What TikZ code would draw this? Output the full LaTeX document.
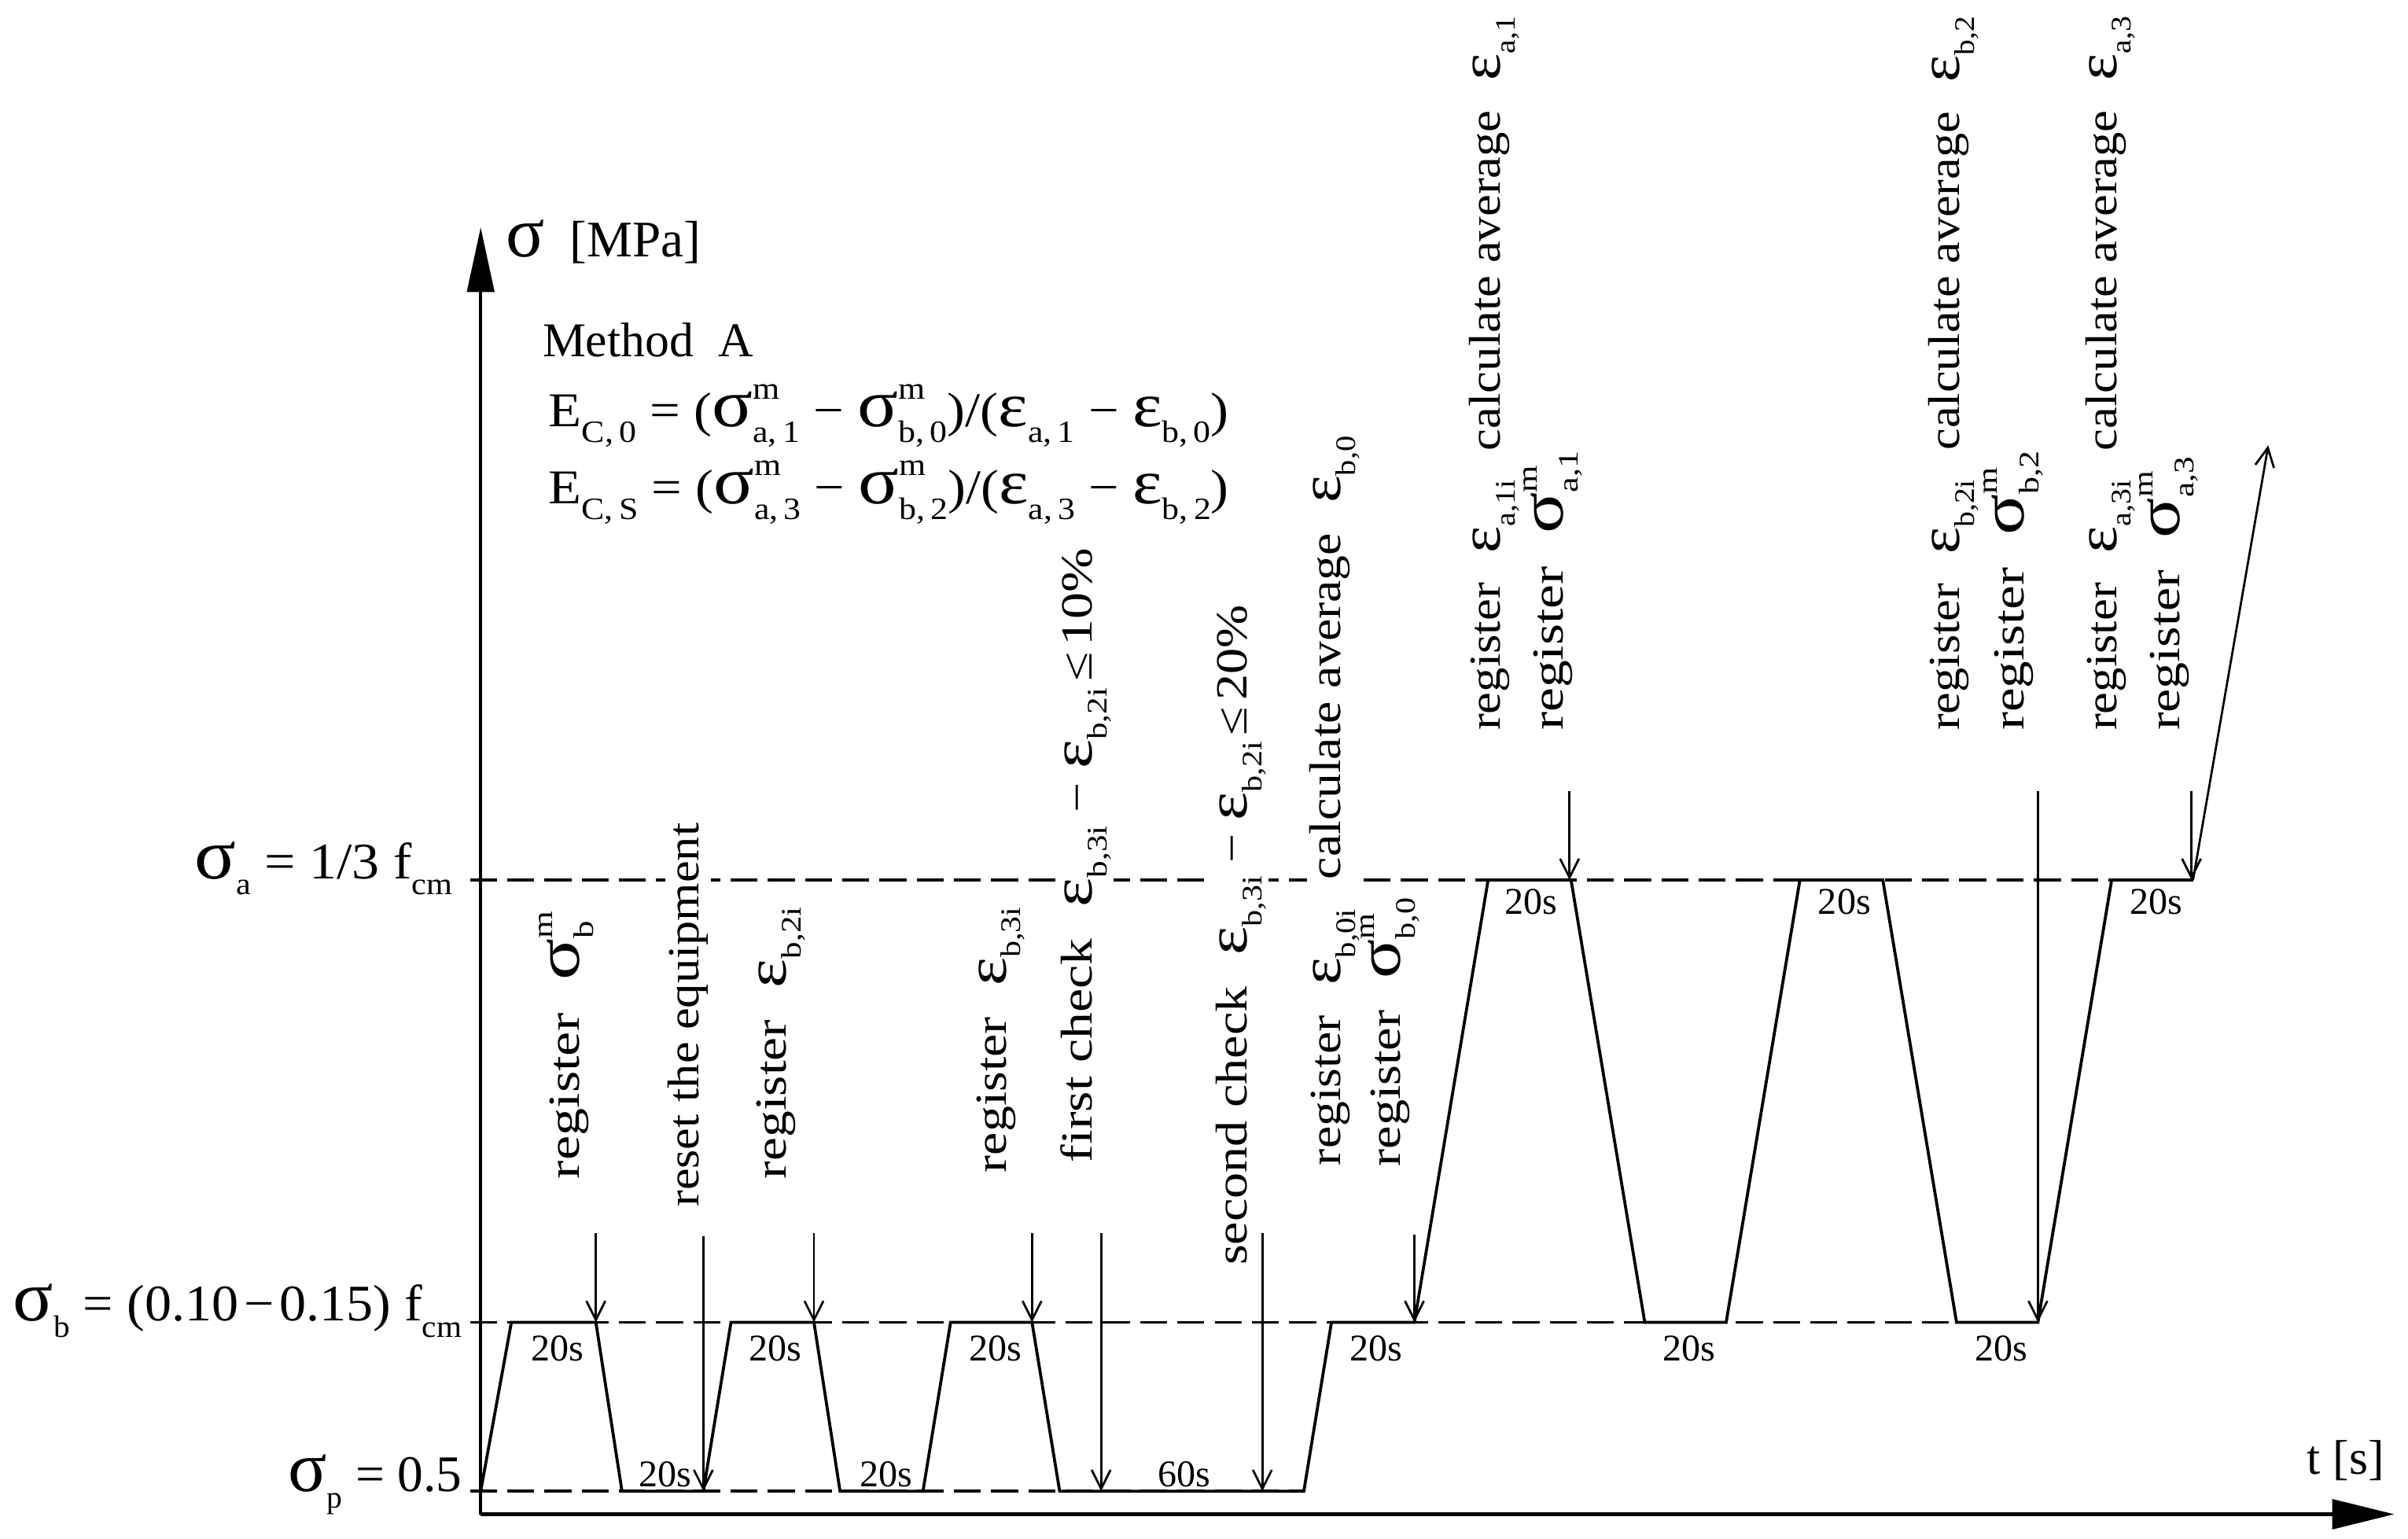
\documentclass[tikz,border=0pt]{standalone}
\usepackage{fontspec}
\setmainfont{Liberation Serif}
\usepackage{graphicx}
\usetikzlibrary{arrows.meta}
\newcommand{\gsig}{\scalebox{1.4}{σ}}
\newcommand{\geps}{\scalebox{1.3}{ε}}
\newcommand{\subsz}{\fontsize{11.5}{13}\selectfont}
\newcommand{\sbx}[1]{\raisebox{-0.32em}{\subsz #1}}
\newcommand{\ssb}[2]{\makebox[0pt][l]{\raisebox{0.58em}{\subsz #1}}\raisebox{-0.32em}{\subsz #2}}
% smaller sub/sup for the rotated labels
\newcommand{\vsubsz}{\fontsize{10.5}{12}\selectfont}
\newcommand{\vsubx}[1]{\raisebox{-0.33em}{\vsubsz #1}}
\newcommand{\vsupsub}[2]{\makebox[0pt][l]{\raisebox{0.6em}{\vsubsz #1}}\raisebox{-0.33em}{\vsubsz #2}}
\newcommand{\gap}{\hspace{0.6em}}
\newcommand{\mn}{\hspace{0.25em}−\hspace{0.25em}}
\newcommand{\leqsp}{\hspace{0.12em}≤\hspace{0.12em}}
\newcommand{\fitw}[2]{\resizebox{#1}{\height}{#2}}
\tikzset{
  loadline/.style={line width=1.1pt, line join=miter},
  axisline/.style={line width=1.2pt},
  levelline/.style={line width=1.1pt, dash pattern=on 10pt off 3.8pt},
  regarrow/.style={line width=0.8pt, -{Straight Barb[length=7pt,width=7pt]}},
  vlab/.style={rotate=90, anchor=base west, inner sep=0pt, font=\fontsize{16.5}{19}\selectfont},
  vlabw/.style={vlab, fill=white, inner sep=1pt},
  hlab/.style={anchor=base west, inner sep=0pt, font=\fontsize{18}{21}\selectfont},
  elab/.style={anchor=base west, inner sep=0pt, font=\fontsize{18}{21}\selectfont},
  llab/.style={anchor=base east, inner sep=0pt, font=\fontsize{19}{22}\selectfont},
  tlab/.style={inner sep=0pt, font=\fontsize{14}{16}\selectfont}
}
\begin{document}
\begin{tikzpicture}[x=0.02cm, y=-0.02cm]
\useasboundingbox (0,0) rectangle (1568,1002);
% level lines
\coordinate (aL) at (306,573); \coordinate (aR) at (1428,573);
\coordinate (bL) at (306,861); \coordinate (bR) at (1327,861);
\coordinate (pL) at (306,971); \coordinate (pR) at (849,971);
\draw[levelline] (aL) -- (aR);
\draw[levelline] (bL) -- (bR);
\draw[levelline] (pL) -- (pR);
% axes
\coordinate (O) at (313,986);
\coordinate (Ytip) at (313,148);
\coordinate (Xtip) at (1559,986);
\draw[axisline, -{Triangle[length=24pt,width=10pt]}] (O) -- (Ytip);
\draw[axisline, -{Triangle[length=23pt,width=11pt]}] (O) -- (Xtip);
% axis labels
\node[hlab, font=\fontsize{19}{21}\selectfont] (ylab) at (329,167) {\gsig\ \ [MPa]};
\node[hlab] (xlab) at (1502,960) {t [s]};
\node[llab] (sa) at (295,572) {\fitw{3.36cm}{\gsig\sbx{a} = 1/3 f\sbx{cm}}};
\node[llab] (sb) at (301,860) {\fitw{5.84cm}{\gsig\sbx{b} = (0.10\hspace{0.1em}−\hspace{0.1em}0.15) f\sbx{cm}}};
\node[llab] (sp) at (301,971) {\fitw{2.26cm}{\gsig\sbx{p} = 0.5}};
% method
\node[hlab] (meth) at (353,232) {Method\ \ A};
\node[elab] (eq1) at (357,278) {\fitw{8.86cm}{E\sbx{C,\,0}\ =\ (\gsig\ssb{m}{a,\,1}\mn\gsig\ssb{m}{b,\,0})/(\geps\sbx{a,\,1}\mn\geps\sbx{b,\,0})}};
\node[elab] (eq2) at (357,328) {\fitw{8.86cm}{E\sbx{C,\,S}\ =\ (\gsig\ssb{m}{a,\,3}\mn\gsig\ssb{m}{b,\,2})/(\geps\sbx{a,\,3}\mn\geps\sbx{b,\,2})}};
% vertical labels
\node[vlab] (L1) at (377,768) {\fitw{3.36cm}{register\gap\gsig\vsupsub{m}{b}}};
\node[vlabw] (L2) at (455,788) {\fitw{5.0cm}{reset the equipment}};
\node[vlab] (L3) at (512,768) {\fitw{3.54cm}{register\gap\geps\vsubx{b,2i}}};
\node[vlab] (L4) at (655,764) {\fitw{3.46cm}{register\gap\geps\vsubx{b,3i}}};
\node[vlabw] (L5) at (711,759) {\fitw{8.0cm}{first check\gap\geps\vsubx{b,3i}\mn\geps\vsubx{b,2i}\leqsp 10\%}};
\node[vlabw] (L6) at (812,826) {\fitw{8.6cm}{second check\gap\geps\vsubx{b,3i}\mn\geps\vsubx{b,2i}\leqsp 20\%}};
\node[vlabw] (L7) at (873,761) {\fitw{9.5cm}{register\gap\geps\vsubx{b,0i}\gap calculate average\gap\geps\vsubx{b,0}}};
\node[vlab] (L8) at (912,760) {\fitw{3.5cm}{register\gap\gsig\vsupsub{m}{b,0}}};
\node[vlab] (L9) at (977,476) {\fitw{9.3cm}{register\gap\geps\vsubx{a,1i}\gap calculate average\gap\geps\vsubx{a,1}}};
\node[vlab] (L10) at (1018,476) {\fitw{3.64cm}{register\gap\gsig\vsupsub{m}{a,1}}};
\node[vlab] (L11) at (1276,476) {\fitw{9.3cm}{register\gap\geps\vsubx{b,2i}\gap calculate average\gap\geps\vsubx{b,2}}};
\node[vlab] (L12) at (1318,476) {\fitw{3.64cm}{register\gap\gsig\vsupsub{m}{b,2}}};
\node[vlab] (L13) at (1378,476) {\fitw{9.3cm}{register\gap\geps\vsubx{a,3i}\gap calculate average\gap\geps\vsubx{a,3}}};
\node[vlab] (L14) at (1419,476) {\fitw{3.56cm}{register\gap\gsig\vsupsub{m}{a,3}}};
% load path
\coordinate (P0) at (313,971); \coordinate (P1) at (333,861);
\coordinate (P2) at (388,861); \coordinate (P3) at (405,971);
\coordinate (P4) at (458,971); \coordinate (P5) at (476,861);
\coordinate (P6) at (530,861); \coordinate (P7) at (547,971);
\coordinate (P8) at (601,971); \coordinate (P9) at (619,861);
\coordinate (P10) at (672,861); \coordinate (P11) at (690,971);
\coordinate (P12) at (849,971); \coordinate (P13) at (867,861);
\coordinate (P14) at (921,861); \coordinate (P15) at (969,573);
\coordinate (P16) at (1023,573); \coordinate (P17) at (1071,861);
\coordinate (P18) at (1124,861); \coordinate (P19) at (1172,573);
\coordinate (P20) at (1226,573); \coordinate (P21) at (1274,861);
\coordinate (P22) at (1327,861); \coordinate (P23) at (1375,573);
\coordinate (P24) at (1428,573); \coordinate (Q) at (1477,290);
\draw[loadline] (P0) -- (P1) -- (P2) -- (P3) -- (P4) -- (P5) -- (P6) -- (P7) -- (P8) -- (P9) -- (P10) -- (P11) -- (P12) -- (P13) -- (P14) -- (P15) -- (P16) -- (P17) -- (P18) -- (P19) -- (P20) -- (P21) -- (P22) -- (P23) -- (P24);
\draw[regarrow] (P24) -- (Q);
% duration labels
\node[tlab] (d1) at (363,878) {20s};
\node[tlab] (d2) at (433,960) {20s};
\node[tlab] (d3) at (505,878) {20s};
\node[tlab] (d4) at (577,960) {20s};
\node[tlab] (d5) at (648,878) {20s};
\node[tlab] (d6) at (771,960) {60s};
\node[tlab] (d7) at (896,878) {20s};
\node[tlab] (d8) at (997,587) {20s};
\node[tlab] (d9) at (1100,878) {20s};
\node[tlab] (d10) at (1201,587) {20s};
\node[tlab] (d11) at (1303,878) {20s};
\node[tlab] (d12) at (1404,587) {20s};
% register arrows
\coordinate (A1s) at (388,803); \coordinate (A1e) at (388,861);
\coordinate (A2s) at (458,805); \coordinate (A2e) at (458,971);
\coordinate (A3s) at (530,803); \coordinate (A3e) at (530,861);
\coordinate (A4s) at (672,803); \coordinate (A4e) at (672,861);
\coordinate (A5s) at (717,803); \coordinate (A5e) at (717,971);
\coordinate (A6s) at (822,803); \coordinate (A6e) at (822,971);
\coordinate (A7s) at (921,804); \coordinate (A7e) at (921,861);
\coordinate (A8s) at (1022,515); \coordinate (A8e) at (1022,573);
\coordinate (A9s) at (1327,515); \coordinate (A9e) at (1327,861);
\coordinate (A10s) at (1427,515); \coordinate (A10e) at (1427,573);
\foreach \i in {1,...,10} { \draw[regarrow] (A\i s) -- (A\i e); }
\end{tikzpicture}
\end{document}
